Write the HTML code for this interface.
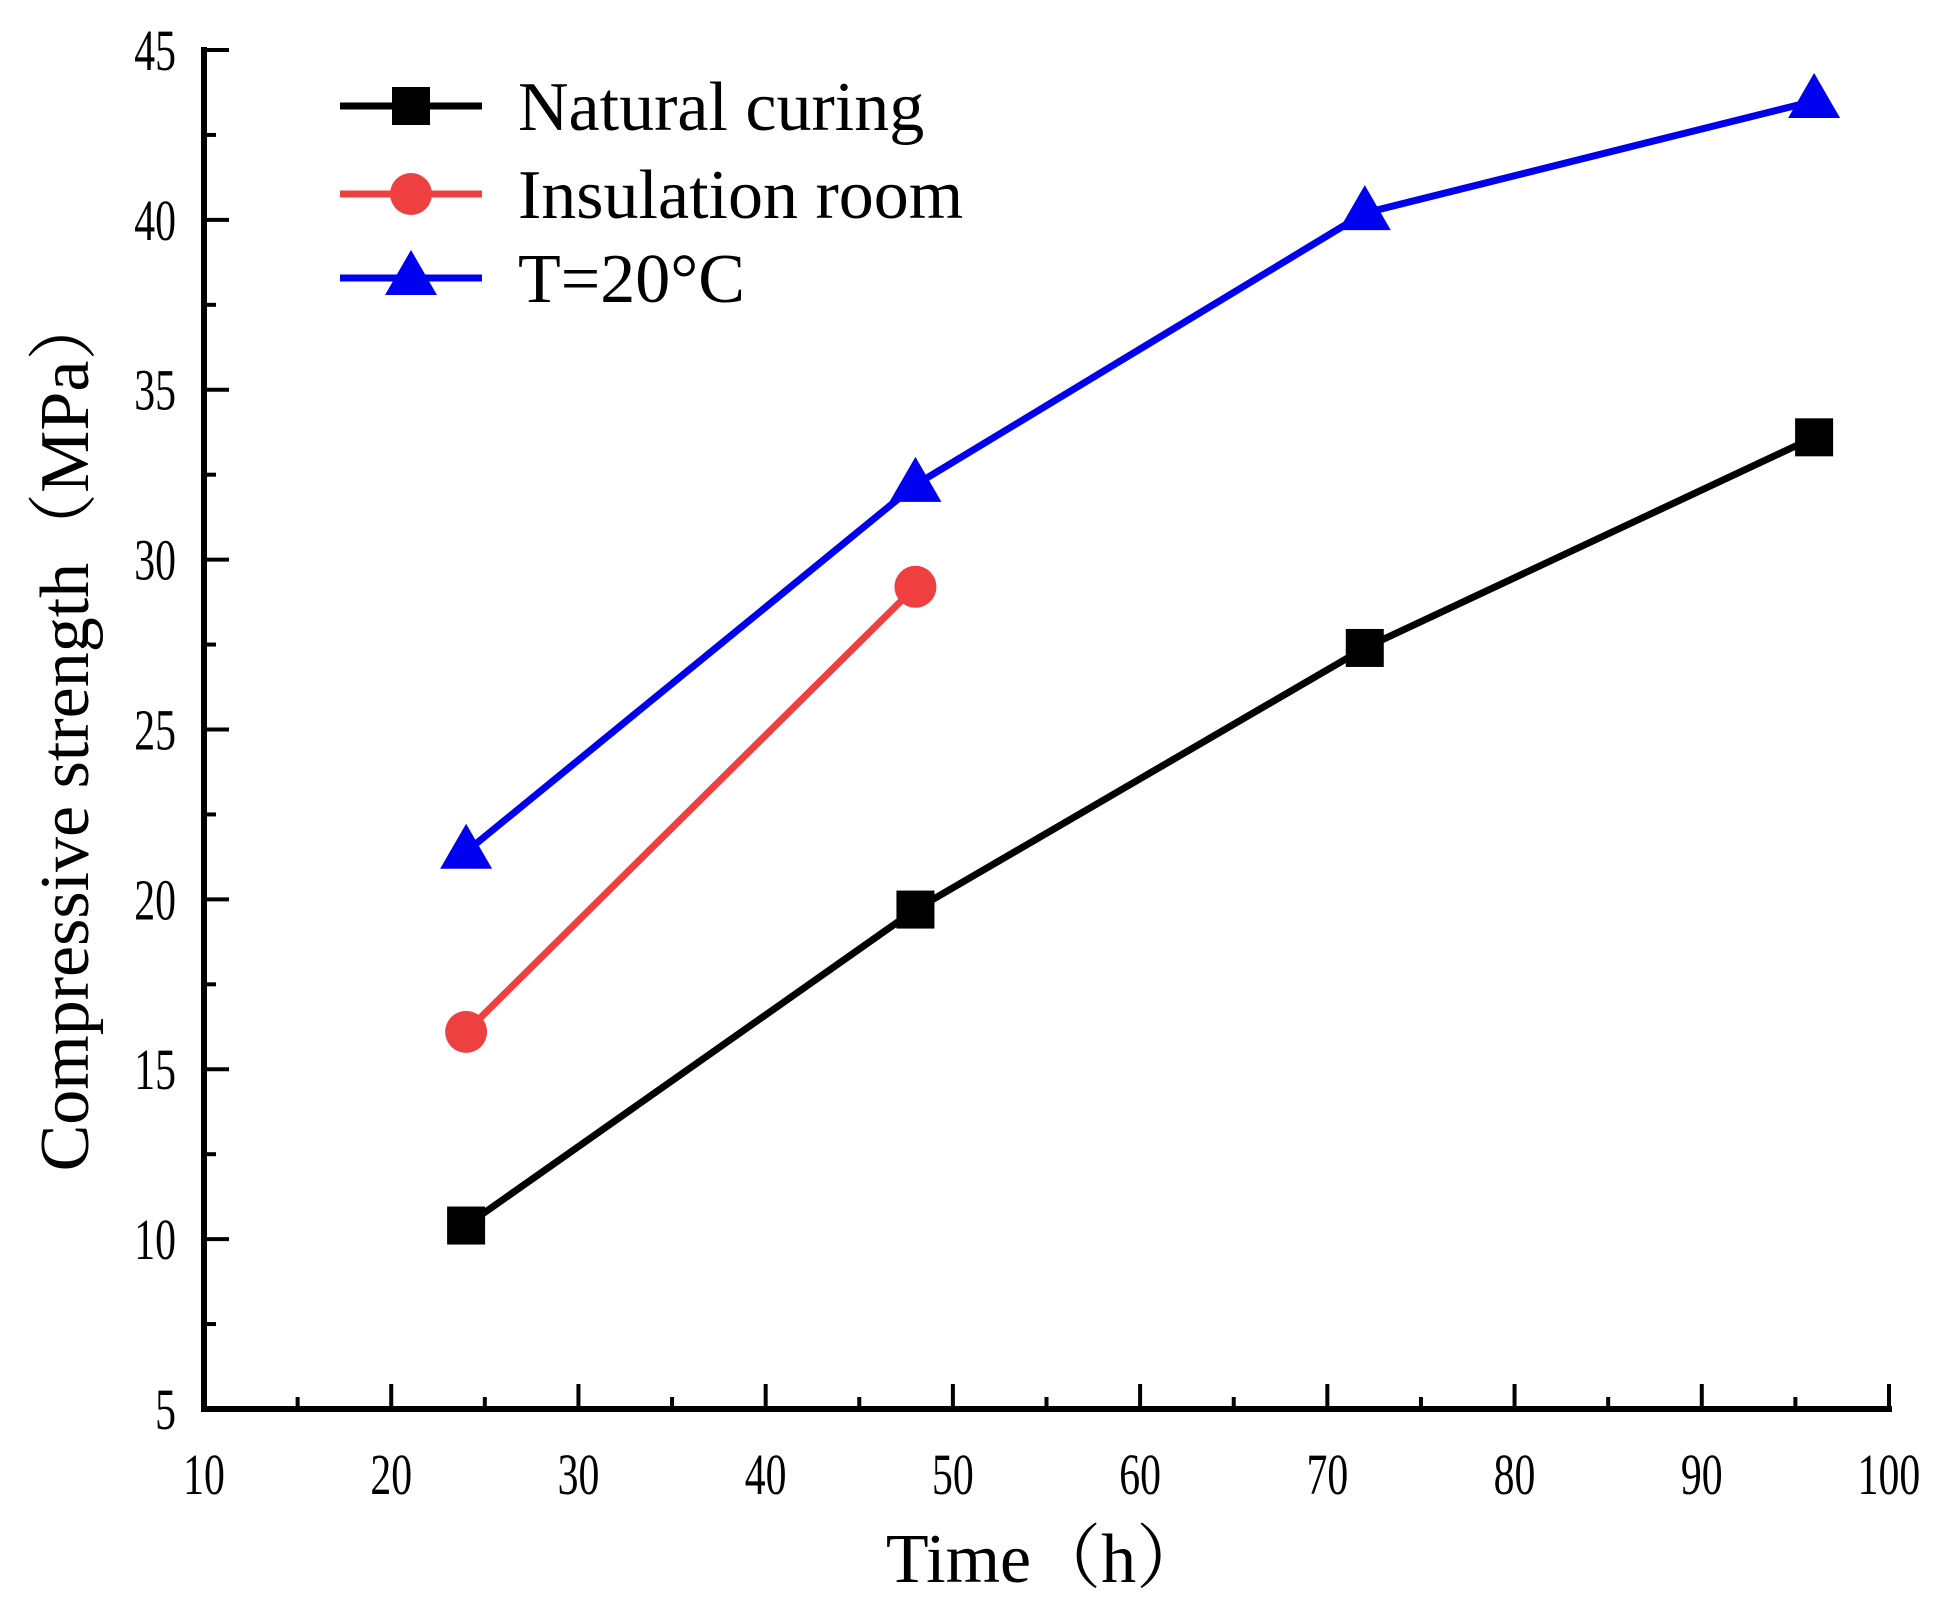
<!DOCTYPE html>
<html><head><meta charset="utf-8"><style>body{margin:0;background:#fff}svg{display:block}</style></head>
<body>
<svg id="chart" width="1952" height="1603" xmlns="http://www.w3.org/2000/svg" font-family="'Liberation Serif','Noto Serif CJK SC',serif">
</svg>
<script>
const times = [24, 48, 72, 96];
const natural = [10.4, 19.7, 27.4, 33.6];
const insulation = [16.1, 29.2];
const t20 = [21.4, 32.2, 40.2, 43.5];
const xTicks = [10, 20, 30, 40, 50, 60, 70, 80, 90, 100];
const yTicks = [5, 10, 15, 20, 25, 30, 35, 40, 45];
const NS = 'http://www.w3.org/2000/svg';
const svg = document.getElementById('chart');
const x = v => 204 + (v - 10) / 90 * 1685;
const y = v => 1409 - (v - 5) / 40 * 1359;
function mk(tag, attrs, parent) {
  const e = document.createElementNS(NS, tag);
  for (const k in attrs) e.setAttribute(k, attrs[k]);
  (parent || svg).appendChild(e);
  return e;
}
let ax = mk('line', {x1: 204, y1: 47, x2: 204, y2: 1412, stroke: '#000', 'stroke-width': 6});


ax = mk('line', {x1: 201, y1: 1409, x2: 1892, y2: 1409, stroke: '#000', 'stroke-width': 6});


xTicks.forEach((v, i) => {
  const l = mk('line', {x1: x(v), y1: 1409, x2: x(v), y2: 1384, stroke: '#000', 'stroke-width': 4});
  
  
  if (i < xTicks.length - 1) {
    const m = mk('line', {x1: x(v + 5), y1: 1409, x2: x(v + 5), y2: 1397, stroke: '#000', 'stroke-width': 4});
    
    
  }
  const t = mk('text', {x: x(v), y: 1494, 'font-size': 58, 'text-anchor': 'middle', transform: `translate(${x(v)},0) scale(0.72,1) translate(${-x(v)},0)`});
  t.textContent = v;
  
  
});
yTicks.forEach((v, i) => {
  const l = mk('line', {x1: 204, y1: y(v), x2: 229, y2: y(v), stroke: '#000', 'stroke-width': 4});
  
  
  if (i < yTicks.length - 1) {
    const m = mk('line', {x1: 204, y1: y(v + 2.5), x2: 216, y2: y(v + 2.5), stroke: '#000', 'stroke-width': 4});
    
    
  }
  const t = mk('text', {x: 176, y: y(v) + 20, 'font-size': 58, 'text-anchor': 'end', transform: `translate(176,0) scale(0.72,1) translate(-176,0)`});
  t.textContent = v;
  
  
});
let tt = mk('text', {x: 1046, y: 1582, 'font-size': 70, 'text-anchor': 'middle'});
tt.textContent = 'Time（h）';


tt = mk('text', {x: 0, y: 0, 'font-size': 70, 'text-anchor': 'middle', transform: 'translate(88,731) rotate(-90)'});
tt.textContent = 'Compressive strength（MPa）';



function marker(kind, cx, cy, color, parent) {
  let e;
  if (kind === 'sq') e = mk('rect', {x: cx - 19, y: cy - 19, width: 38, height: 38, fill: color}, parent);
  else if (kind === 'ci') e = mk('circle', {cx: cx, cy: cy, r: 21, fill: color}, parent);
  else e = mk('polygon', {points: `${cx},${cy - 28} ${cx - 26},${cy + 17} ${cx + 26},${cy + 17}`, fill: color}, parent);
  return e;
}
const series = [
  {name: 'natural-curing', vals: natural, color: '#000', kind: 'sq', label: 'Natural curing'},
  {name: 'insulation-room', vals: insulation, color: '#ee4040', kind: 'ci', label: 'Insulation room'},
  {name: 't-20c', vals: t20, color: '#0000f0', kind: 'tr', label: 'T=20°C'}
];
series.forEach((s, si) => {
  const g = mk('g', {});
  
  
  const pts = s.vals.map((v, i) => `${x(times[i])},${y(v)}`).join(' ');
  const pl = mk('polyline', {points: pts, fill: 'none', stroke: s.color, 'stroke-width': 7}, g);
  
  
  s.vals.forEach((v, i) => {
    const m = marker(s.kind, x(times[i]), y(v), s.color, g);
    
    
  });
  const ly = [106, 194, 278][si];
  const lg = mk('g', {});
  
  
  mk('line', {x1: 340, y1: ly, x2: 482, y2: ly, stroke: s.color, 'stroke-width': 7}, lg);
  marker(s.kind, 411, ly, s.color, lg);
  const t = mk('text', {x: 518, y: ly + 24, 'font-size': 70}, lg);
  t.textContent = s.label;
});
</script>
</body></html>
